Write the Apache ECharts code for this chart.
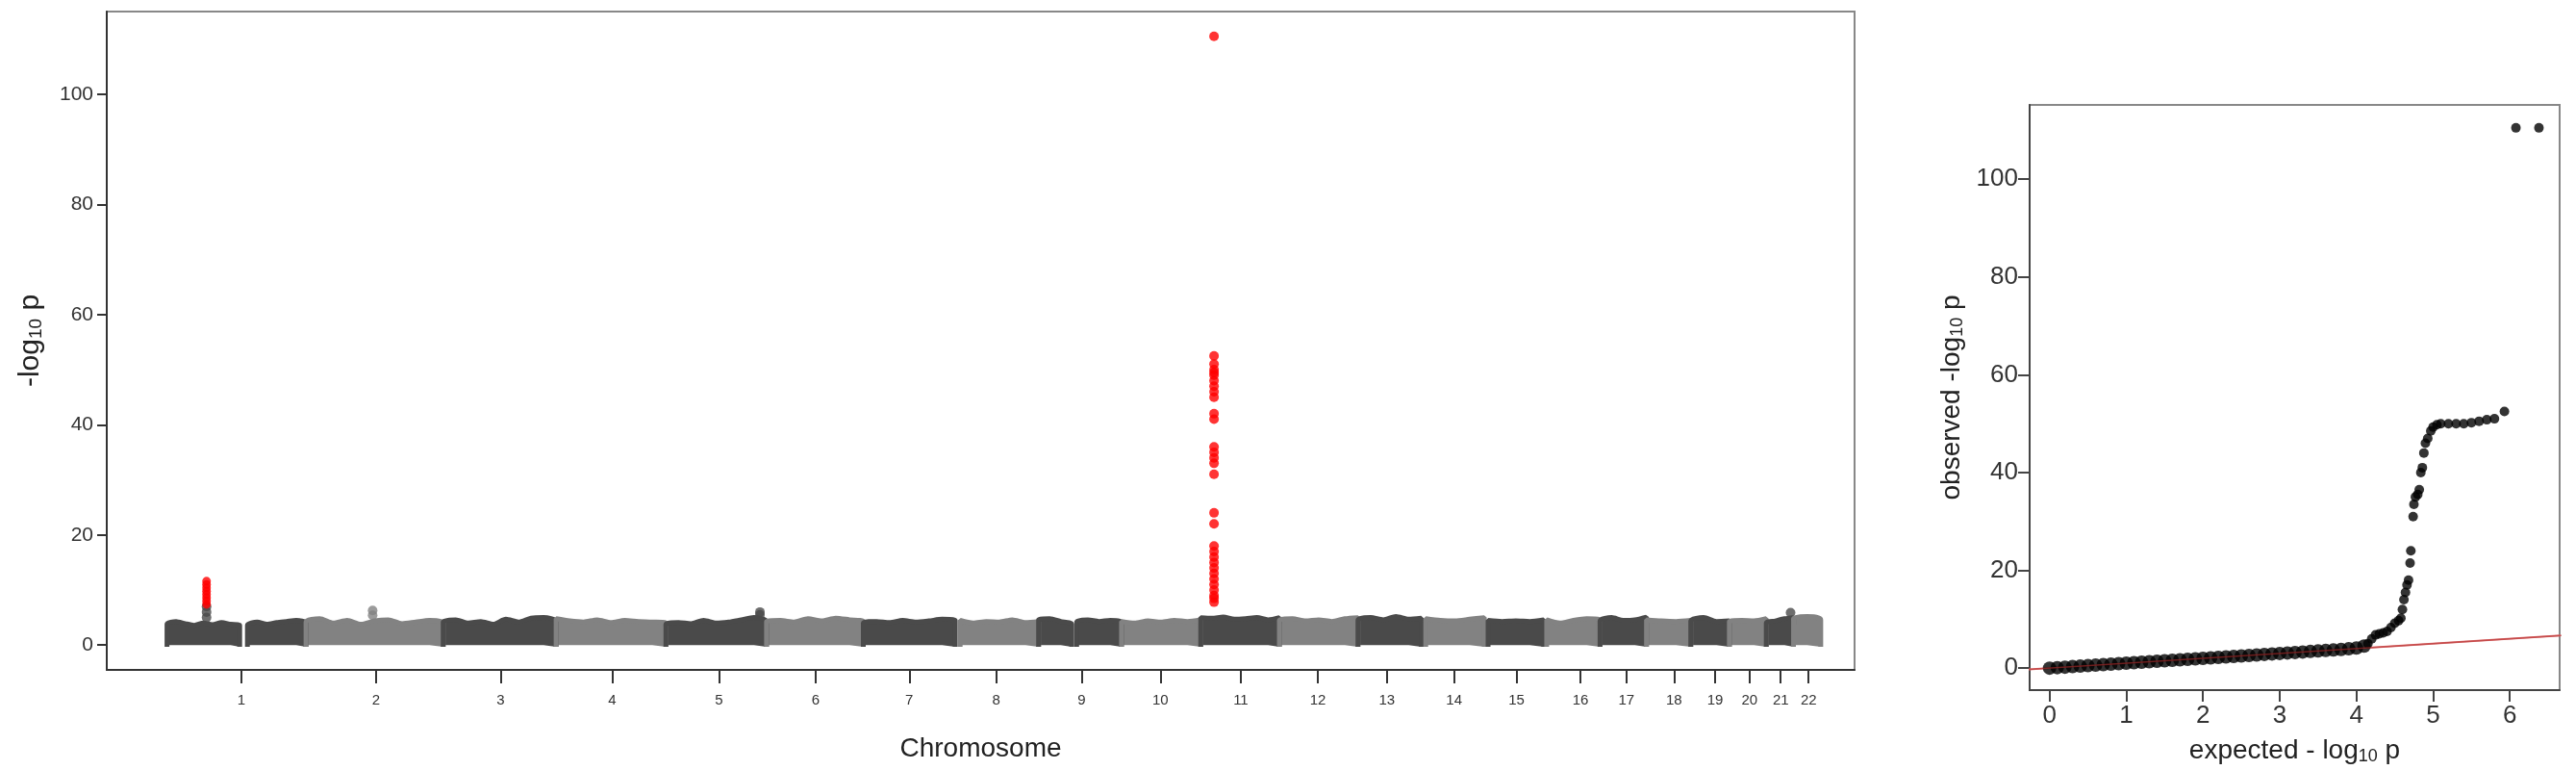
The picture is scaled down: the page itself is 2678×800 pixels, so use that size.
<!DOCTYPE html>
<html><head><meta charset="utf-8">
<script src="https://cdn.jsdelivr.net/npm/echarts@6/dist/echarts.min.js"></script>
<style>html,body{margin:0;background:#fff}#c{width:2678px;height:800px}</style>
</head><body><div id="c"></div>
<script>
// Manhattan: chromosome labels and tick positions (cumulative position units)
const chromLabels = ['1','2','3','4','5','6','7','8','9','10','11','12','13','14','15','16','17','18','19','20','21','22'];
const chromTicks = [82,164,240,308,373,432,489,542,594,642,691,738,780,821,859,898,926,955,980,1001,1020,1037];
// blocks: [start, end, shade(0 dark,1 gray), envelope heights]
const blocks = [
  [36.7, 81, 0, [3.8,4.3,3.9,3.6,4.0,3.7,4.1,3.8,3.6]],
  [85.7, 121.4, 0, [3.6,4.2,3.8,4.1,4.3,4.5,4.0]],
  [121.4, 205, 1, [4.2,4.8,4.0,4.5,3.8,4.4,4.6,3.9,4.2,4.5,4.0]],
  [205, 273.8, 0, [4.2,4.6,4.0,4.3,3.8,4.7,4.2,4.9,5.0,4.3]],
  [273.8, 340.7, 1, [4.8,4.4,4.2,4.6,4.1,4.5,4.3,4.2,4.0]],
  [340.7, 402, 0, [3.8,4.1,3.9,4.5,4.0,4.2,4.6,5.0,4.3]],
  [402, 461, 1, [4.3,4.5,4.2,4.8,4.4,4.9,4.6,4.3]],
  [461, 517, 0, [4.0,4.3,4.1,4.5,4.2,4.4,4.7,4.5]],
  [520, 567.8, 1, [4.5,4.0,4.3,4.2,4.6,4.1,4.3]],
  [567.8, 588, 0, [4.6,4.8,4.3,3.8]],
  [591, 618.3, 0, [4.2,4.6,4.3,4.5,4.2]],
  [618.3, 666.6, 1, [4.3,4.0,4.4,4.2,4.5,4.3,4.6]],
  [666.6, 714.5, 0, [5.0,4.9,5.1,4.7,4.8,5.0,4.6,5.0]],
  [714.5, 762.4, 1, [4.5,4.8,4.4,4.6,4.3,4.8,5.0]],
  [762.4, 801, 0, [4.5,5.0,4.6,5.2,4.7,4.9]],
  [803.7, 839.4, 1, [4.8,4.5,4.4,4.7,5.0]],
  [841.7, 875.6, 0, [4.5,4.3,4.4,4.3,4.6]],
  [877.4, 909.9, 1, [4.6,4.0,4.5,4.8,4.6]],
  [909.9, 938.2, 0, [4.4,5.0,4.5,4.6,5.1]],
  [938.2, 965.2, 1, [4.6,4.4,4.3,4.5]],
  [965.2, 988.7, 0, [4.4,5.0,4.3,4.4]],
  [988.7, 1011.2, 1, [4.3,4.5,4.4,4.8]],
  [1011.2, 1027.8, 0, [4.0,4.4,4.8,5.0]],
  [1027.8, 1044.4, 1, [4.8,5.2,4.6]]
];
// isolated points above the band [pos, value]
const extraPoints = [[60.8,5],[60.8,6],[60.8,7],[162,5.4],[162,6.3],[398,5.5],[398,6.0],[1026,5.9]];
// red hits
const redChr1 = [[60.8,7.4],[60.8,8],[60.8,8.6],[60.8,9.2],[60.8,9.8],[60.8,10.4],[60.8,11],[60.8,11.6]];
const redChr11 = [110.5,52.5,51,50,49.5,49,48,47,46,45,42,41,36,35,34,33,31,24,22,18,17,16,15,14,13,12,11,10,9,8.5,7.8];
const redChr11Pos = 674.7;

// QQ plot data [expected, observed]
const qqBand = [[0,0],[0.1,0.1],[0.2,0.2],[0.3,0.3],[0.4,0.4],[0.5,0.5],[0.6,0.6],[0.7,0.7],[0.8,0.8],[0.9,0.9],[1,1],[1.1,1.1],[1.2,1.2],[1.3,1.3],[1.4,1.4],[1.5,1.5],[1.6,1.6],[1.7,1.7],[1.8,1.8],[1.9,1.9],[2,2],[2.1,2.1],[2.2,2.2],[2.3,2.3],[2.4,2.4],[2.5,2.5],[2.6,2.6],[2.7,2.7],[2.8,2.8],[2.9,2.9],[3,3],[3.1,3.1],[3.2,3.2],[3.3,3.3],[3.4,3.4],[3.5,3.5],[3.6,3.6],[3.7,3.7],[3.8,3.8],[3.9,3.95],[4.0,4.1],[4.1,4.5]];
const qqTail = [[4.15,5],[4.2,6],[4.25,6.8],[4.3,7],[4.35,7.2],[4.4,7.5],[4.45,8.3],[4.5,9.2],[4.55,9.7],[4.58,10.2],[4.6,12],[4.62,14],[4.64,15.5],[4.66,17],[4.68,18],[4.7,21.5],[4.71,24],[4.74,31],[4.75,33.5],[4.77,35],[4.8,35.5],[4.82,36.5],[4.84,40],[4.86,41],[4.88,44],[4.9,46],[4.93,47],[4.97,48.5],[5.0,49.3],[5.05,49.8],[5.1,50],[5.2,50],[5.3,50],[5.4,50],[5.5,50.2],[5.6,50.5],[5.7,50.8],[5.8,51],[5.93,52.5],[6.08,110.5],[6.38,110.5]];
const qqLine = [[-0.3,-0.3],[6.7,6.7]];

const DARK = '#4a4a4a', GRAY = '#828282';
const series = [];
blocks.forEach(b => {
  const [s, e, shade, hs] = b;
  const pts = [[s, -0.3]];
  hs.forEach((h, i) => pts.push([s + (e - s) * (i / (hs.length - 1)), h]));
  pts.push([e, -0.3]);
  series.push({type:'line', xAxisIndex:0, yAxisIndex:0, data:pts, smooth:0.25, symbol:'none',
    lineStyle:{width:5, color: shade ? GRAY : DARK}, areaStyle:{color: shade ? GRAY : DARK, opacity:1}});
});
series.push({type:'scatter', xAxisIndex:0, yAxisIndex:0, data:extraPoints, symbolSize:10,
  itemStyle:{color:(p)=> (p.value[0] > 100 && p.value[0] < 210) ? GRAY : DARK}});
series.push({type:'scatter', xAxisIndex:0, yAxisIndex:0, data:redChr1, symbolSize:9, itemStyle:{color:'#ff0000'}});
series.push({type:'scatter', xAxisIndex:0, yAxisIndex:0, data:redChr11.map(v=>[redChr11Pos, v]), symbolSize:10, itemStyle:{color:'#ff0000'}});
// QQ
series.push({type:'line', xAxisIndex:1, yAxisIndex:1, data:qqLine, symbol:'none', lineStyle:{color:'#e07070', width:2}, z:1});
series.push({type:'scatter', xAxisIndex:1, yAxisIndex:1, data:qqBand, symbolSize:14, itemStyle:{color:'#000'}, z:2});
series.push({type:'line', xAxisIndex:1, yAxisIndex:1, data:qqLine, symbol:'none', lineStyle:{color:'#b03030', width:1.5, opacity:0.6}, z:3});
series.push({type:'scatter', xAxisIndex:1, yAxisIndex:1, data:qqTail, symbolSize:10, itemStyle:{color:'#000'}, z:2});

const FONT = 'Liberation Sans';
const txt = '#333';
const chart = echarts.init(document.getElementById('c'));
chart.setOption({
  animation:false,
  textStyle:{fontFamily:FONT},
  grid:[
    {left:111, right:750, top:12, bottom:104, show:true, borderColor:'#888', borderWidth:2},
    {left:2110, right:17, top:109, bottom:73, show:true, borderColor:'#888', borderWidth:2}
  ],
  xAxis:[
    {gridIndex:0, type:'value', min:0, max:1065, position:'bottom',
     axisLine:{show:true, onZero:false, lineStyle:{color:'#333', width:2}},
     axisTick:{show:true, length:14, customValues:chromTicks, lineStyle:{color:'#333', width:2}},
     axisLabel:{show:true, customValues:chromTicks, margin:24, fontSize:15, color:txt,
       formatter:(v)=>{const i=chromTicks.indexOf(v); return i>=0?chromLabels[i]:'';}},
     splitLine:{show:false},
     name:'Chromosome', nameLocation:'middle', nameGap:68, nameTextStyle:{fontSize:28, color:'#222'}},
    {gridIndex:1, type:'value', min:-0.26, max:6.65,
     axisLine:{show:true, onZero:false, lineStyle:{color:'#444', width:2}},
     axisTick:{show:true, length:12, customValues:[0,1,2,3,4,5,6], lineStyle:{color:'#444', width:2}},
     axisLabel:{customValues:[0,1,2,3,4,5,6], margin:14, fontSize:26, color:txt},
     splitLine:{show:false},
     name:'expected - log{s|10} p', nameLocation:'middle', nameGap:48,
     nameTextStyle:{fontSize:28, color:'#222', rich:{s:{fontSize:18, padding:[12,0,0,0]}}}}
  ],
  yAxis:[
    {gridIndex:0, type:'value', min:-4.5, max:115,
     axisLine:{show:true, onZero:false, lineStyle:{color:'#333', width:2}},
     axisTick:{show:true, length:10, customValues:[0,20,40,60,80,100], lineStyle:{color:'#333', width:2}},
     axisLabel:{customValues:[0,20,40,60,80,100], margin:14, fontSize:21, color:txt},
     splitLine:{show:false},
     name:'-log{s|10} p', nameLocation:'middle', nameGap:64, nameRotate:90,
     nameTextStyle:{fontSize:30, color:'#222', rich:{s:{fontSize:19, padding:[12,0,0,0]}}}},
    {gridIndex:1, type:'value', min:-4.5, max:115.2,
     axisLine:{show:true, onZero:false, lineStyle:{color:'#444', width:2}},
     axisTick:{show:true, length:12, customValues:[0,20,40,60,80,100], lineStyle:{color:'#444', width:2}},
     axisLabel:{customValues:[0,20,40,60,80,100], margin:12, fontSize:26, color:txt},
     splitLine:{show:false},
     name:'observed -log{s|10} p', nameLocation:'middle', nameGap:66, nameRotate:90,
     nameTextStyle:{fontSize:28, color:'#222', rich:{s:{fontSize:18, padding:[12,0,0,0]}}}}
  ],
  series
});
</script></body></html>
